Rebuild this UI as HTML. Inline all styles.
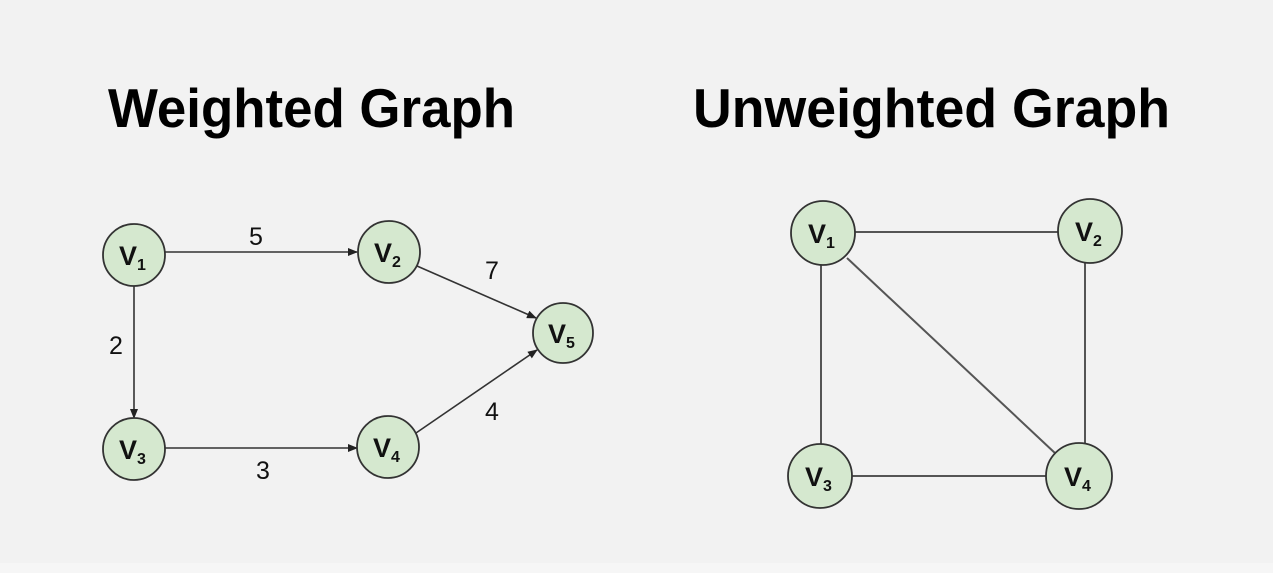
<!DOCTYPE html>
<html><head><meta charset="utf-8"><style>
html,body{margin:0;padding:0;background:#f2f2f2;}
svg{display:block;}
</style></head><body>
<svg width="1273" height="573" viewBox="0 0 1273 573" xmlns="http://www.w3.org/2000/svg">
<defs>
<marker id="a" markerWidth="10" markerHeight="8" refX="9" refY="4" orient="auto" markerUnits="userSpaceOnUse">
<path d="M0,0 L10,4 L0,8 Z" fill="#222"/>
</marker>
</defs>
<rect width="1273" height="573" fill="#f2f2f2"/>
<rect y="563" width="1273" height="10" fill="#f6f6f6"/>
<g font-family="Liberation Sans, sans-serif" font-weight="bold" fill="#000">
<text x="108" y="127" font-size="55" textLength="407" lengthAdjust="spacingAndGlyphs">Weighted Graph</text>
<text x="693" y="127" font-size="55" textLength="477" lengthAdjust="spacingAndGlyphs">Unweighted Graph</text>
</g>
<g stroke="#333" stroke-width="1.6" fill="none">
<line x1="165" y1="252" x2="357" y2="252" marker-end="url(#a)"/>
<line x1="134" y1="286" x2="134" y2="418" marker-end="url(#a)"/>
<line x1="165" y1="448" x2="357" y2="448" marker-end="url(#a)"/>
<line x1="417" y1="266" x2="536" y2="318" marker-end="url(#a)"/>
<line x1="416" y1="433" x2="537" y2="350" marker-end="url(#a)"/>
</g>
<g stroke="#555" stroke-width="2" fill="none">
<line x1="855" y1="232" x2="1058" y2="232"/>
<line x1="821" y1="265" x2="821" y2="444"/>
<line x1="1085" y1="263" x2="1085" y2="444"/>
<line x1="852" y1="476" x2="1046" y2="476"/>
<line x1="847" y1="258" x2="1056" y2="454"/>
</g>
<g font-family="Liberation Sans, sans-serif" font-size="25" fill="#111" text-anchor="middle">
<text x="256" y="245">5</text>
<text x="492" y="279">7</text>
<text x="116" y="354">2</text>
<text x="492" y="420">4</text>
<text x="263" y="479">3</text>
</g>
<g fill="#d5e8cf" stroke="#333" stroke-width="1.8">
<circle cx="134" cy="255" r="31"/>
<circle cx="389" cy="252" r="31"/>
<circle cx="563" cy="333" r="30"/>
<circle cx="134" cy="449" r="31"/>
<circle cx="388" cy="447" r="31"/>
<circle cx="823" cy="233" r="32"/>
<circle cx="1090" cy="231" r="32"/>
<circle cx="820" cy="476" r="32"/>
<circle cx="1079" cy="476" r="33"/>
</g>
<g font-family="Liberation Sans, sans-serif" font-weight="bold" fill="#111">
<text x="119" y="265" font-size="27">V<tspan font-size="16" dy="5">1</tspan></text>
<text x="374" y="262" font-size="27">V<tspan font-size="16" dy="5">2</tspan></text>
<text x="548" y="343" font-size="27">V<tspan font-size="16" dy="5">5</tspan></text>
<text x="119" y="459" font-size="27">V<tspan font-size="16" dy="5">3</tspan></text>
<text x="373" y="457" font-size="27">V<tspan font-size="16" dy="5">4</tspan></text>
<text x="808" y="243" font-size="27">V<tspan font-size="16" dy="5">1</tspan></text>
<text x="1075" y="241" font-size="27">V<tspan font-size="16" dy="5">2</tspan></text>
<text x="805" y="486" font-size="27">V<tspan font-size="16" dy="5">3</tspan></text>
<text x="1064" y="486" font-size="27">V<tspan font-size="16" dy="5">4</tspan></text>
</g>
</svg>
</body></html>
